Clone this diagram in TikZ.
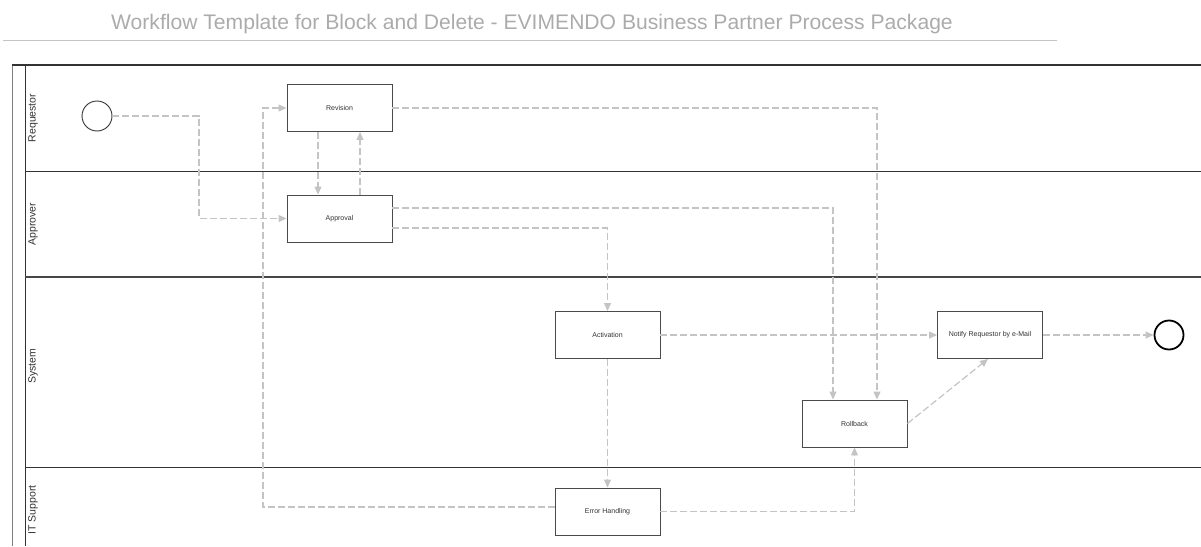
\documentclass[tikz,border=0pt]{standalone}
\usepackage{fontspec}
\setmainfont{Liberation Sans}
\usetikzlibrary{arrows.meta,calc}
\definecolor{flowgray}{HTML}{C4C4C4}
\definecolor{titlegray}{HTML}{ABABAB}
\definecolor{boxline}{HTML}{4A4A4A}
\definecolor{textdark}{HTML}{333333}
\tikzset{
  task/.style={draw=boxline, line width=0.9pt, fill=white, minimum width=105pt, minimum height=47pt, inner sep=0pt, font=\fontsize{7}{8}\selectfont, text=textdark},
  flow/.style={draw=flowgray, line width=1.2pt, dash pattern=on 7pt off 3pt, -{Triangle[length=8pt,width=7pt,fill=flowgray]}},
  lanelabel/.style={rotate=90, font=\fontsize{10.5}{12}\selectfont, text=textdark, inner sep=0pt},
  laneline/.style={draw=textdark, line width=1pt},
}
\begin{document}
\begin{tikzpicture}[x=1pt,y=-1pt]
\useasboundingbox (0,0) rectangle (1201,546);
% title
\node[font=\fontsize{21.1}{25}\selectfont, text=titlegray, anchor=base] (title) at (532,29) {Workflow Template for Block and Delete - EVIMENDO Business Partner Process Package};
\draw[draw=titlegray!70, line width=1.5pt] (3,40.5) -- (1057,40.5);
% pool
\draw[draw=gray, line width=1pt] (12,65) -- (12,546);
\draw[laneline] (25,65) -- (25,546);
\draw[draw=textdark, line width=2pt] (12,65) -- (1201,65);
\draw[laneline] (25,171) -- (1201,171);
\draw[draw=textdark!90, line width=1.6pt] (25,277) -- (1201,277);
\draw[laneline] (25,467) -- (1201,467);
% lane labels
\node[lanelabel] (lreq) at (33,118) {Requestor};
\node[lanelabel] (lapp) at (33,224) {Approver};
\node[lanelabel] (lsys) at (33,366) {System};
\node[lanelabel] (lit) at (33,510) {IT Support};
% events
\node[circle, draw=textdark, line width=0.9pt, minimum size=30pt, inner sep=0pt] (start) at (97,116) {};
\node[circle, draw=black, line width=1.8pt, minimum size=29pt, inner sep=0pt] (end) at (1169,335) {};
% tasks
\node[task] (rev) at (339.5,108) {Revision};
\node[task] (app) at (339.5,218.5) {Approval};
\node[task] (act) at (607.5,335) {Activation};
\node[task] (ntf) at (990,335) {Notify Requestor by e-Mail};
\node[task] (rb) at (854.5,423.5) {Rollback};
\node[task] (err) at (607.5,511.5) {Error Handling};
% helper coordinates
\coordinate (b1) at (199,116);
\coordinate (b12) at (263,108);
% connectors
\draw[flow] (start.east) -- (b1) |- (app.west);
\draw[flow] ([xshift=-21.5pt]rev.south) -- ([xshift=-21.5pt]app.north);
\draw[flow] ([xshift=20.5pt]app.north) -- ([xshift=20.5pt]rev.south);
\draw[flow] (rev.east) -| ([xshift=22.5pt]rb.north);
\draw[flow] ([yshift=10.5pt]app.east) -| ([xshift=-21.5pt]rb.north);
\draw[flow] ([yshift=-9.5pt]app.east) -| (act.north);
\draw[flow] (act.east) -- (ntf.west);
\draw[flow] (ntf.east) -- (end.west);
\draw[flow] (rb.east) -- ([xshift=-2pt]ntf.south);
\draw[flow] (act.south) -- (err.north);
\draw[flow] (err.east) -| (rb.south);
\draw[flow] ([yshift=4.5pt]err.west) -| (b12) -- (rev.west);
\end{tikzpicture}
\end{document}
